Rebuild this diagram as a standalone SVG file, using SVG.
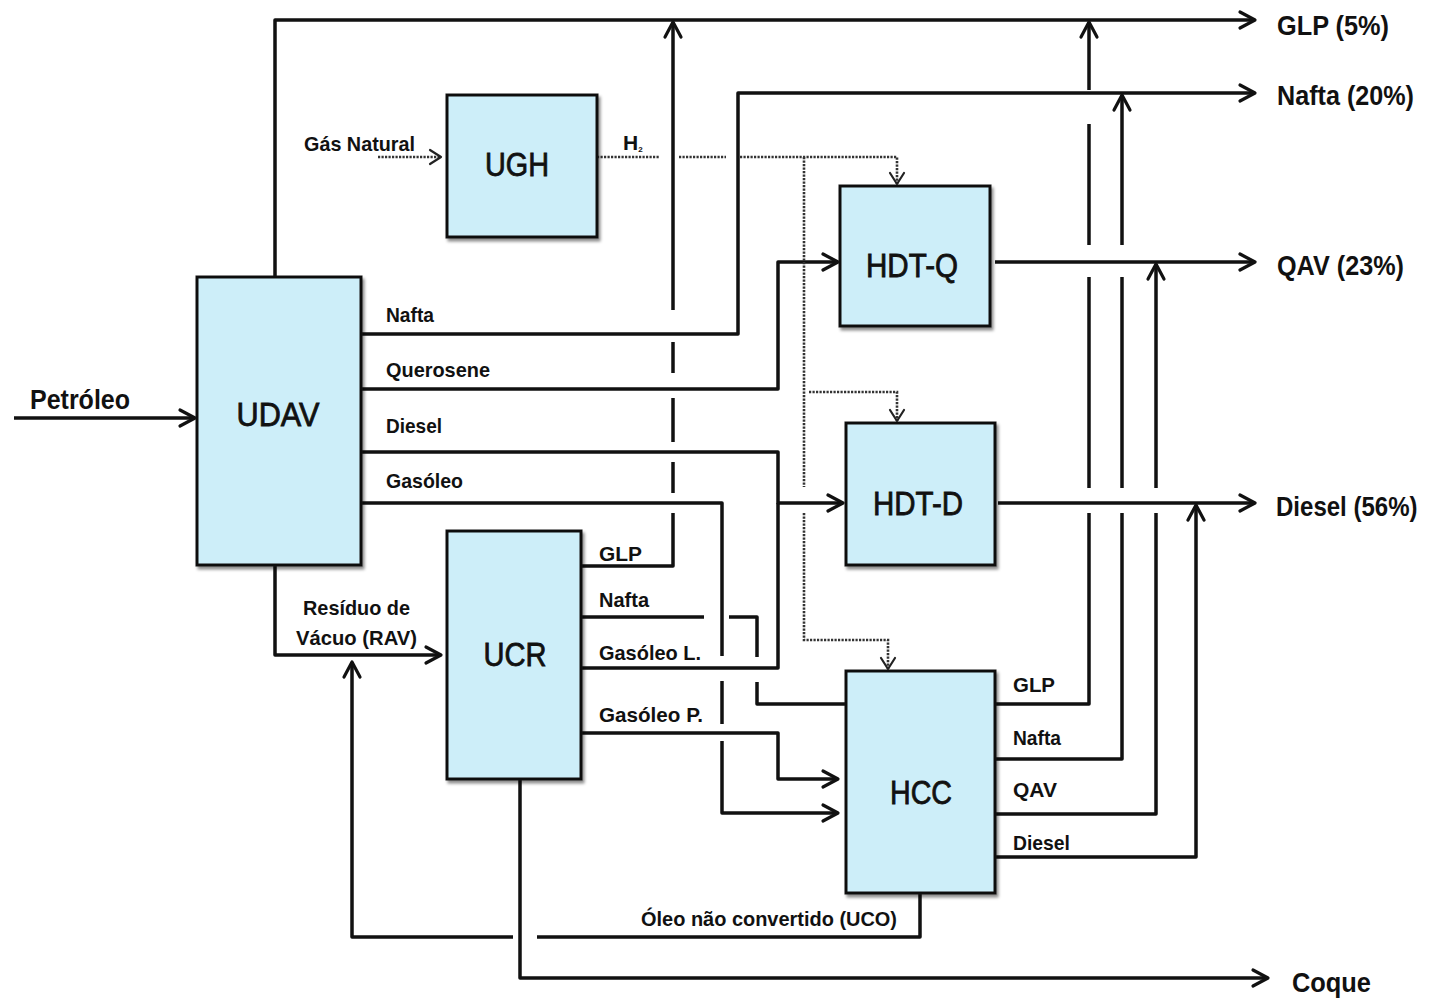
<svg xmlns="http://www.w3.org/2000/svg" width="1430" height="1000" viewBox="0 0 1430 1000">
<style>
.box{fill:#cdeef9;stroke:#111;stroke-width:3;filter:url(#sh)}
.ln{fill:none;stroke:#111;stroke-width:3.5;stroke-linejoin:round}
.dt{fill:none;stroke:#333;stroke-width:2.6;stroke-dasharray:2.2 1.3}
.lbl{font-family:"Liberation Sans",Arial,sans-serif;font-weight:bold;font-size:21px;fill:#111}
.big{font-size:27px}
.node{font-family:"Liberation Sans",Arial,sans-serif;font-weight:normal;font-size:33px;fill:#111;stroke:#111;stroke-width:0.8;text-anchor:middle}
</style>
<defs>
<filter id="sh" x="-10%" y="-10%" width="130%" height="130%">
<feDropShadow dx="2" dy="3" stdDeviation="1.5" flood-color="#000" flood-opacity="0.45"/>
</filter>
<marker id="arr" markerUnits="userSpaceOnUse" markerWidth="22" markerHeight="22" viewBox="0 0 22 22" refX="18" refY="11" orient="auto">
<path d="M3,3 L18,11 L3,19" fill="none" stroke="#111" stroke-width="3.2" stroke-linecap="round" stroke-linejoin="round"/>
</marker>
<marker id="darr" markerUnits="userSpaceOnUse" markerWidth="18" markerHeight="18" viewBox="0 0 18 18" refX="14" refY="9" orient="auto">
<path d="M3,2 L14,9 L3,16" fill="none" stroke="#222" stroke-width="2.2" stroke-linecap="round" stroke-linejoin="round"/>
</marker>
</defs>
<rect width="1430" height="1000" fill="#fff"/>

<g id="connectors">
<path class="ln" d="M14,418 H195" marker-end="url(#arr)"/>
<path class="ln" d="M275,277 V20 H1255" marker-end="url(#arr)"/>
<path class="ln" d="M361,334 H738 V93 H1255" marker-end="url(#arr)"/>
<path class="ln" d="M361,389 H778 V262 H838" marker-end="url(#arr)"/>
<path class="ln" d="M361,452 H778 V503 H843" marker-end="url(#arr)"/>
<path class="ln" d="M361,503 H722 V656"/>
<path class="ln" d="M722,681 V724"/>
<path class="ln" d="M722,741 V813 H838" marker-end="url(#arr)"/>
<path class="ln" d="M275,565 V655 H441" marker-end="url(#arr)"/>
<path class="ln" d="M581,566 H673 V513"/>
<path class="ln" d="M673,493 V462"/>
<path class="ln" d="M673,442 V398"/>
<path class="ln" d="M673,373 V342"/>
<path class="ln" d="M673,310 V22" marker-end="url(#arr)"/>
<path class="ln" d="M581,617 H704"/>
<path class="ln" d="M729,617 H757 V657"/>
<path class="ln" d="M757,682 V704 H846"/>
<path class="ln" d="M581,668 H778 V503"/>
<path class="ln" d="M581,733 H778 V779 H838" marker-end="url(#arr)"/>
<path class="ln" d="M520,779 V978 H1268" marker-end="url(#arr)"/>
<path class="ln" d="M920,893 V937 H537"/>
<path class="ln" d="M513,937 H352 V662" marker-end="url(#arr)"/>
<path class="ln" d="M995,262 H1255" marker-end="url(#arr)"/>
<path class="ln" d="M998,503 H1255" marker-end="url(#arr)"/>
<path class="ln" d="M995,704 H1089 V513"/>
<path class="ln" d="M1089,488 V277"/>
<path class="ln" d="M1089,245 V124"/>
<path class="ln" d="M1089,90 V22" marker-end="url(#arr)"/>
<path class="ln" d="M995,759 H1122 V513"/>
<path class="ln" d="M1122,488 V277"/>
<path class="ln" d="M1122,245 V95" marker-end="url(#arr)"/>
<path class="ln" d="M995,814 H1156 V513"/>
<path class="ln" d="M1156,488 V264" marker-end="url(#arr)"/>
<path class="ln" d="M995,857 H1196 V505" marker-end="url(#arr)"/>
<path class="dt" d="M378,157 H441" marker-end="url(#darr)"/>
<path class="dt" d="M597,157 H659"/>
<path class="dt" d="M679,157 H726"/>
<path class="dt" d="M740,157 H897 V184" marker-end="url(#darr)"/>
<path class="dt" d="M804,157 V487"/>
<path class="dt" d="M804,513 V640 H888 V669" marker-end="url(#darr)"/>
<path class="dt" d="M809,392 H897 V421" marker-end="url(#darr)"/>
</g>

<g id="UDAV"><rect class="box" x="197" y="277" width="164" height="288"/><text class="node" x="278" y="426" textLength="83" lengthAdjust="spacingAndGlyphs">UDAV</text></g>
<g id="UGH"><rect class="box" x="447" y="95" width="150" height="142"/><text class="node" x="517" y="176" textLength="64" lengthAdjust="spacingAndGlyphs">UGH</text></g>
<g id="HDT-Q"><rect class="box" x="840" y="186" width="150" height="140"/><text class="node" x="912" y="277" textLength="92" lengthAdjust="spacingAndGlyphs">HDT-Q</text></g>
<g id="HDT-D"><rect class="box" x="846" y="423" width="149" height="142"/><text class="node" x="918" y="515" textLength="90" lengthAdjust="spacingAndGlyphs">HDT-D</text></g>
<g id="UCR"><rect class="box" x="447" y="531" width="134" height="248"/><text class="node" x="515" y="666" textLength="63" lengthAdjust="spacingAndGlyphs">UCR</text></g>
<g id="HCC"><rect class="box" x="846" y="671" width="149" height="222"/><text class="node" x="921" y="804" textLength="62" lengthAdjust="spacingAndGlyphs">HCC</text></g>

<g id="labels">
<text class="lbl big" x="1277" y="35" textLength="112" lengthAdjust="spacingAndGlyphs">GLP (5%)</text>
<text class="lbl big" x="1277" y="105" textLength="137" lengthAdjust="spacingAndGlyphs">Nafta (20%)</text>
<text class="lbl big" x="1277" y="275" textLength="127" lengthAdjust="spacingAndGlyphs">QAV (23%)</text>
<text class="lbl big" transform="translate(1276,516) scale(0.89,1)">Diesel (56%)</text>
<text class="lbl big" x="1292" y="992" textLength="79" lengthAdjust="spacingAndGlyphs">Coque</text>
<text class="lbl big" x="30" y="409" textLength="100" lengthAdjust="spacingAndGlyphs">Petróleo</text>
<text class="lbl" x="304" y="151" textLength="111" lengthAdjust="spacingAndGlyphs">Gás Natural</text>
<text class="lbl" x="623" y="150" font-size="12">H<tspan font-size="8" dy="2">2</tspan></text>
<text class="lbl" x="386" y="322" textLength="48" lengthAdjust="spacingAndGlyphs">Nafta</text>
<text class="lbl" x="386" y="377" textLength="104" lengthAdjust="spacingAndGlyphs">Querosene</text>
<text class="lbl" x="386" y="433" textLength="56" lengthAdjust="spacingAndGlyphs">Diesel</text>
<text class="lbl" x="386" y="488" textLength="77" lengthAdjust="spacingAndGlyphs">Gasóleo</text>
<text class="lbl" x="303" y="615" textLength="107" lengthAdjust="spacingAndGlyphs">Resíduo de</text>
<text class="lbl" x="296" y="645" textLength="121" lengthAdjust="spacingAndGlyphs">Vácuo (RAV)</text>
<text class="lbl" x="599" y="561" textLength="43" lengthAdjust="spacingAndGlyphs">GLP</text>
<text class="lbl" x="599" y="607" textLength="50" lengthAdjust="spacingAndGlyphs">Nafta</text>
<text class="lbl" x="599" y="660" textLength="102" lengthAdjust="spacingAndGlyphs">Gasóleo L.</text>
<text class="lbl" x="599" y="722" textLength="104" lengthAdjust="spacingAndGlyphs">Gasóleo P.</text>
<text class="lbl" x="1013" y="692" textLength="42" lengthAdjust="spacingAndGlyphs">GLP</text>
<text class="lbl" x="1013" y="745" textLength="48" lengthAdjust="spacingAndGlyphs">Nafta</text>
<text class="lbl" x="1013" y="797" textLength="44" lengthAdjust="spacingAndGlyphs">QAV</text>
<text class="lbl" x="1013" y="850" textLength="57" lengthAdjust="spacingAndGlyphs">Diesel</text>
<text class="lbl" x="641" y="926" textLength="256" lengthAdjust="spacingAndGlyphs">Óleo não convertido (UCO)</text>
</g>
</svg>
